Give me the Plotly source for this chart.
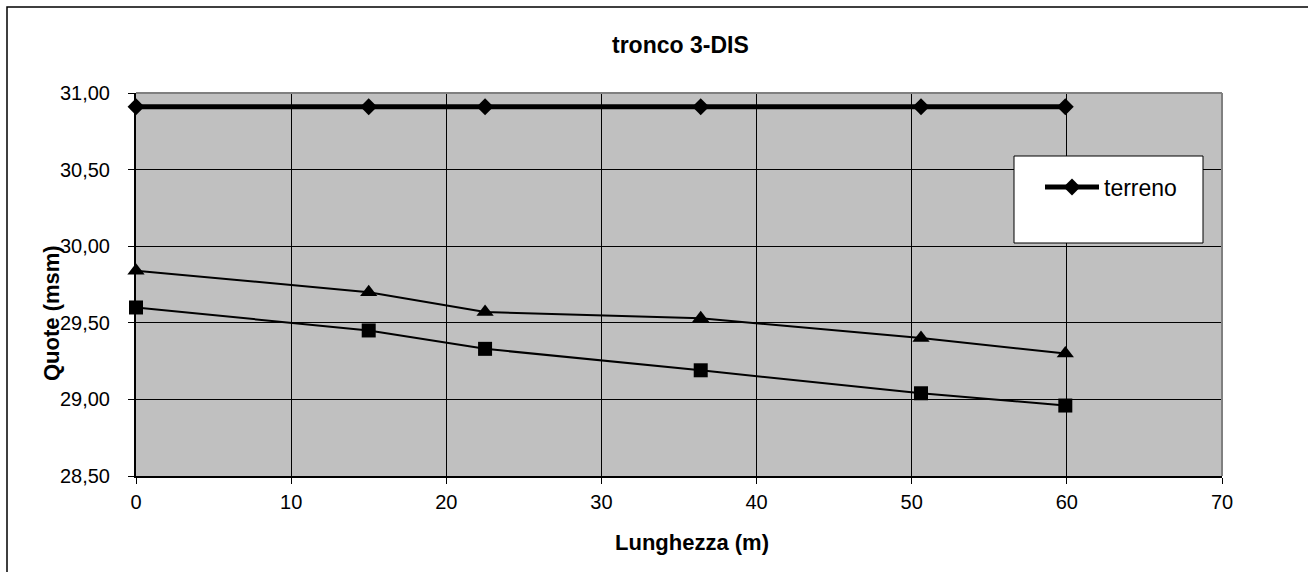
import plotly.graph_objects as go

# Profile of sewer segment "tronco 3-DIS"
distanze = [0.0, 15.0, 22.5, 36.4, 50.6, 59.9]          # Lunghezza (m)
terreno = [30.91, 30.91, 30.91, 30.91, 30.91, 30.91]     # ground level
cielo_tubo = [29.84, 29.70, 29.57, 29.53, 29.40, 29.30]  # pipe crown
scorrimento = [29.60, 29.45, 29.33, 29.19, 29.04, 28.96] # pipe invert

x_ticks = [0, 10, 20, 30, 40, 50, 60, 70]
y_ticks = [28.5, 29.0, 29.5, 30.0, 30.5, 31.0]

W, H = 1308, 572
ML, MR, MT, MB = 136, 86, 93, 96
PW, PH = W - ML - MR, H - MT - MB

FONT = "Liberation Sans, Arial, sans-serif"


def px(x):
    return (x - ML) / PW


def py(y):
    return (H - MB - y) / PH


fig = go.Figure()

fig.add_trace(go.Scatter(
    x=distanze, y=cielo_tubo, mode="lines+markers", name="cielo tubo",
    line=dict(color="black", width=2),
    marker=dict(symbol="triangle-up", size=15, color="black"),
    showlegend=False, cliponaxis=False,
))
fig.add_trace(go.Scatter(
    x=distanze, y=scorrimento, mode="lines+markers", name="scorrimento",
    line=dict(color="black", width=2),
    marker=dict(symbol="square", size=14, color="black"),
    showlegend=False, cliponaxis=False,
))
fig.add_trace(go.Scatter(
    x=distanze, y=terreno, mode="lines+markers", name="terreno",
    line=dict(color="black", width=5),
    marker=dict(symbol="diamond", size=13, color="black"),
    showlegend=True, cliponaxis=False,
))

shapes = [
    # grey top and right borders of the plot area
    dict(type="line", xref="paper", yref="paper", x0=0, x1=1, y0=1, y1=1,
         line=dict(color="#808080", width=2), layer="above"),
    dict(type="line", xref="paper", yref="paper", x0=1, x1=1, y0=0, y1=1,
         line=dict(color="#808080", width=2), layer="above"),
    # legend frame
    dict(type="rect", xref="paper", yref="paper",
         x0=px(1014), x1=px(1203), y0=py(243), y1=py(156),
         line=dict(color="black", width=1), fillcolor="white", layer="above"),
    # chart frame
    dict(type="rect", xref="paper", yref="paper",
         x0=px(7), x1=px(1330), y0=py(600), y1=py(7),
         line=dict(color="black", width=1.5), fillcolor="rgba(0,0,0,0)",
         layer="above"),
]

annotations = [
    dict(text="tronco 3-DIS", xref="paper", yref="paper",
         x=px(680), y=py(45), xanchor="center", yanchor="middle",
         showarrow=False, font=dict(family=FONT, size=23, color="black", weight="bold")),
    dict(text="Lunghezza (m)", xref="paper", yref="paper",
         x=px(692), y=py(542), xanchor="center", yanchor="middle",
         showarrow=False, font=dict(family=FONT, size=22, color="black", weight="bold")),
    dict(text="Quote (msm)", xref="paper", yref="paper", textangle=-90,
         x=px(51), y=py(313), xanchor="center", yanchor="middle",
         showarrow=False, font=dict(family=FONT, size=22, color="black", weight="bold")),
]

axis_common = dict(
    showgrid=True, gridcolor="black", gridwidth=1,
    showline=True, linecolor="black", linewidth=2,
    ticks="outside", ticklen=6, tickcolor="black", tickwidth=1,
    zeroline=False, tickfont=dict(family=FONT, size=20, color="black"),
)

fig.update_layout(
    width=W, height=H, autosize=False,
    margin=dict(l=ML, r=MR, t=MT, b=MB, pad=0),
    paper_bgcolor="white", plot_bgcolor="#C0C0C0",
    separators=",.",
    font=dict(family=FONT, color="black"),
    xaxis=dict(range=[0, 70], tickvals=x_ticks, ticklabelstandoff=1, **axis_common),
    yaxis=dict(range=[28.5, 31], tickvals=y_ticks, tickformat=".2f",
               ticklabelstandoff=14, **axis_common),
    legend=dict(x=px(1040), y=py(187), xanchor="left", yanchor="middle",
                xref="paper", yref="paper",
                bgcolor="rgba(0,0,0,0)", borderwidth=0, itemwidth=54,
                font=dict(family=FONT, size=23, color="black")),
    shapes=shapes,
    annotations=annotations,
)

fig.write_html("out.html")
